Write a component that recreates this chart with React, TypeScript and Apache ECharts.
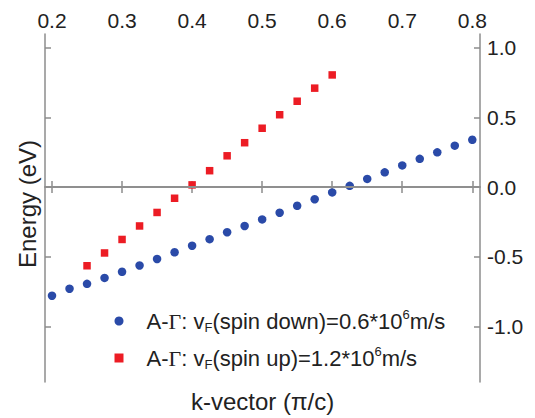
import React, { useEffect, useRef } from "react";
import * as echarts from "echarts";

const kDown = [0.2, 0.225, 0.25, 0.275, 0.3, 0.325, 0.35, 0.375, 0.4, 0.425, 0.45, 0.475, 0.5, 0.525, 0.55, 0.575, 0.6, 0.625, 0.65, 0.675, 0.7, 0.725, 0.75, 0.775, 0.8];
const eDown = [-0.78, -0.73, -0.695, -0.652, -0.608, -0.563, -0.516, -0.468, -0.421, -0.374, -0.324, -0.279, -0.232, -0.184, -0.134, -0.087, -0.038, 0.009, 0.059, 0.106, 0.156, 0.203, 0.25, 0.298, 0.34];
const kUp = [0.25, 0.275, 0.3, 0.325, 0.35, 0.375, 0.4, 0.425, 0.45, 0.475, 0.5, 0.525, 0.55, 0.575, 0.6];
const eUp = [-0.565, -0.473, -0.376, -0.279, -0.182, -0.08, 0.016, 0.118, 0.225, 0.319, 0.423, 0.52, 0.617, 0.711, 0.806];
const xTicks = [0.2, 0.3, 0.4, 0.5, 0.6, 0.7, 0.8];
const yTicks = [-1.0, -0.5, 0.0, 0.5, 1.0];
const nameDown = "A-Γ: vF(spin down)=0.6*10^6m/s";
const nameUp = "A-Γ: vF(spin up)=1.2*10^6m/s";
const xTitle = "k-vector (π/c)";
const yTitle = "Energy (eV)";

const FONT = "Liberation Sans, Arial, Helvetica, sans-serif";
const AXIS_COLOR = "#8c8c8c";
const TEXT_COLOR = "#222222";

export default function App() {
  const ref = useRef<HTMLDivElement>(null);
  useEffect(() => {
    if (!ref.current) return;
    const chart = echarts.init(ref.current, undefined, { renderer: "svg" });
    const lineStyle = { color: AXIS_COLOR, width: 1.5 };
    const tick = { show: true, inside: true, length: 6, lineStyle };
    const fmt = (v: number) => v.toFixed(1);
    const tok = { fontFamily: FONT, fontSize: 22, lineHeight: 26, color: TEXT_COLOR };
    const option: any = {
      animation: false,
      grid: { left: 45, right: 55, top: 34, bottom: 31, containLabel: false },
      xAxis: [
        {
          type: "value",
          position: "bottom",
          min: 0.19,
          max: 0.811,
          axisLine: { show: true, lineStyle },
          axisTick: { ...tick, customValues: xTicks },
          axisLabel: { show: false, customValues: xTicks },
          splitLine: { show: false },
          name: xTitle,
          nameLocation: "middle",
          nameGap: 7,
          nameTextStyle: { fontFamily: FONT, fontSize: 24, color: TEXT_COLOR },
        },
        {
          type: "value",
          position: "top",
          min: 0.19,
          max: 0.811,
          axisLine: { show: true, lineStyle },
          axisTick: { ...tick, customValues: xTicks },
          axisLabel: { show: true, customValues: xTicks, formatter: fmt, margin: 3, fontFamily: FONT, fontSize: 21, color: TEXT_COLOR },
          splitLine: { show: false },
        },
      ],
      yAxis: [
        {
          type: "value",
          position: "left",
          min: -1.4,
          max: 1.1,
          axisLine: { show: true, lineStyle },
          axisTick: { ...tick, customValues: yTicks },
          axisLabel: { show: false, customValues: yTicks },
          splitLine: { show: false },
          name: yTitle,
          nameLocation: "middle",
          nameGap: 6,
          nameTextStyle: { fontFamily: FONT, fontSize: 24, color: TEXT_COLOR, padding: [0, 0, 0, 8] },
        },
        {
          type: "value",
          position: "right",
          min: -1.4,
          max: 1.1,
          axisLine: { show: true, lineStyle },
          axisTick: { ...tick, customValues: yTicks },
          axisLabel: { show: true, customValues: yTicks, formatter: fmt, margin: 7, fontFamily: FONT, fontSize: 21, color: TEXT_COLOR },
          splitLine: { show: false },
        },
      ],
      legend: {
        orient: "vertical",
        left: 109.5,
        top: 303,
        itemWidth: 9,
        itemHeight: 9,
        itemGap: 11,
        data: [
          { name: nameDown, icon: "circle", itemStyle: { opacity: 1 } },
          { name: nameUp, icon: "rect", itemStyle: { opacity: 1 } },
        ],
        formatter: (name: string) =>
          name === nameDown
            ? "{gap|}{t|A-}{g|Γ}{t|: v}{sub|F}{t|(spin down)=0.6*10}{sup|6}{t|m/s}"
            : "{gap|}{t|A-}{g|Γ}{t|: v}{sub|F}{t|(spin up)=1.2*10}{sup|6}{t|m/s}",
        textStyle: {
          fontFamily: FONT,
          fontSize: 22,
          color: TEXT_COLOR,
          rich: {
            gap: { width: 18, fontSize: 22, lineHeight: 26, fontFamily: FONT },
            t: tok,
            g: { ...tok, fontFamily: "Liberation Serif, DejaVu Serif, serif" },
            sub: { fontFamily: FONT, fontSize: 13, color: TEXT_COLOR, verticalAlign: "bottom" },
            sup: { fontFamily: FONT, fontSize: 13, color: TEXT_COLOR, verticalAlign: "top" },
          },
        },
      },
      series: [
        {
          name: nameDown,
          type: "scatter",
          xAxisIndex: 0,
          yAxisIndex: 0,
          symbol: "circle",
          symbolSize: 8.5,
          itemStyle: { color: "#2a4aa8", opacity: 1 },
          data: kDown.map((k, i) => [k, eDown[i]]),
          markLine: {
            silent: true,
            symbol: ["none", "none"],
            label: { show: false },
            lineStyle: { color: "#8f8f8f", width: 2, type: "solid" },
            data: [{ yAxis: 0 }],
          },
        },
        {
          name: nameUp,
          type: "scatter",
          xAxisIndex: 0,
          yAxisIndex: 0,
          symbol: "rect",
          symbolSize: 7.5,
          itemStyle: { color: "#ec1c24", opacity: 1 },
          data: kUp.map((k, i) => [k, eUp[i]]),
        },
      ],
    };
    chart.setOption(option);
    return () => chart.dispose();
  }, []);
  return <div ref={ref} style={{ width: 535, height: 418, position: "absolute", left: 0, top: 0 }} />;
}
